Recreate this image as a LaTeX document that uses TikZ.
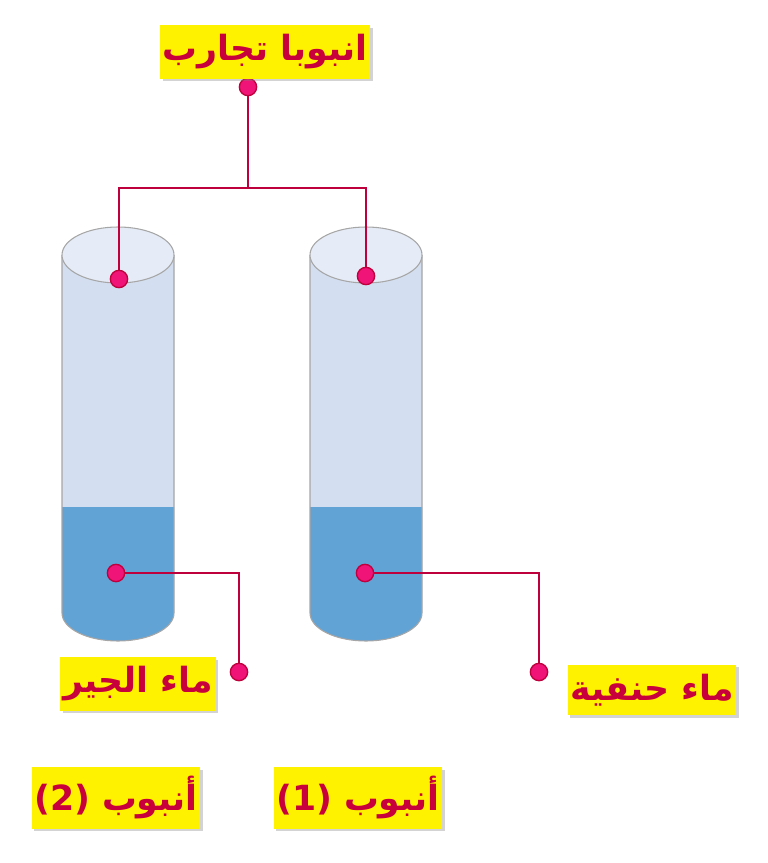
\documentclass[tikz,border=0pt]{standalone}
\usepackage{fontspec}
\newfontfamily\arabicfont[Script=Arabic]{DejaVu Sans}
\TeXXeTstate=1
\usetikzlibrary{shadows}
\definecolor{labred}{RGB}{200,0,60}
\definecolor{dotpink}{RGB}{240,20,120}
\definecolor{wire}{RGB}{190,0,60}
\definecolor{glass}{RGB}{211,223,240}
\definecolor{glasstop}{RGB}{230,236,247}
\definecolor{water}{RGB}{98,163,213}
\tikzset{
  tag/.style={fill=yellow, text=labred, font=\arabicfont\bfseries\fontsize{26}{30}\selectfont,
    inner xsep=2pt, inner ysep=7pt, drop shadow={shadow xshift=2pt, shadow yshift=-2pt, opacity=0.35}},
  pin/.style={circle, fill=dotpink, draw=wire, line width=1pt, minimum size=13pt, inner sep=0pt},
  wired/.style={draw=wire, line width=1.2pt}
}
\begin{document}
\begin{tikzpicture}[x=0.75pt,y=-0.75pt]
\useasboundingbox (0,0) rectangle (767,863);

% tubes
\foreach \xl in {62,310}{
  \fill[glass] (\xl,255) -- (\xl+112,255) -- (\xl+112,613) arc (0:180:56 and 28) -- cycle;
  \fill[water] (\xl,507) -- (\xl+112,507) -- (\xl+112,613) arc (0:180:56 and 28) -- cycle;
  \draw[gray!70, line width=0.8pt] (\xl,255) -- (\xl,613) arc (180:0:56 and 28) -- (\xl+112,255);
  \filldraw[fill=glasstop, draw=gray!70, line width=0.8pt] (\xl+56,255) ellipse (56 and 28);
}

% pins
\node[pin] (ptop) at (248,87) {};
\coordinate (split) at (248,188);
\node[pin] (pleft) at (119,279) {};
\node[pin] (pright) at (366,276) {};
\node[pin] (plime) at (116,573) {};
\node[pin] (ptap) at (365,573) {};
\node[pin] (elime) at (239,672) {};
\node[pin] (etap) at (539,672) {};

% wires
\draw[wired] (ptop) -- (split);
\draw[wired] (split) -| (pleft);
\draw[wired] (split) -| (pright);
\draw[wired] (plime) -| (elime);
\draw[wired] (ptap) -| (etap);

% labels
\node[tag] (ltubes) at (265,52) {\beginR انبوبا تجارب\endR};
\node[tag] (llime) at (138,684) {\beginR ماء الجير\endR};
\node[tag] (ltap) at (652,690) {\beginR ماء حنفية\endR};
\node[tag] (ltwo) at (116,798) {\beginR أنبوب (2)\endR};
\node[tag] (lone) at (358,798) {\beginR أنبوب (1)\endR};
\end{tikzpicture}
\end{document}
